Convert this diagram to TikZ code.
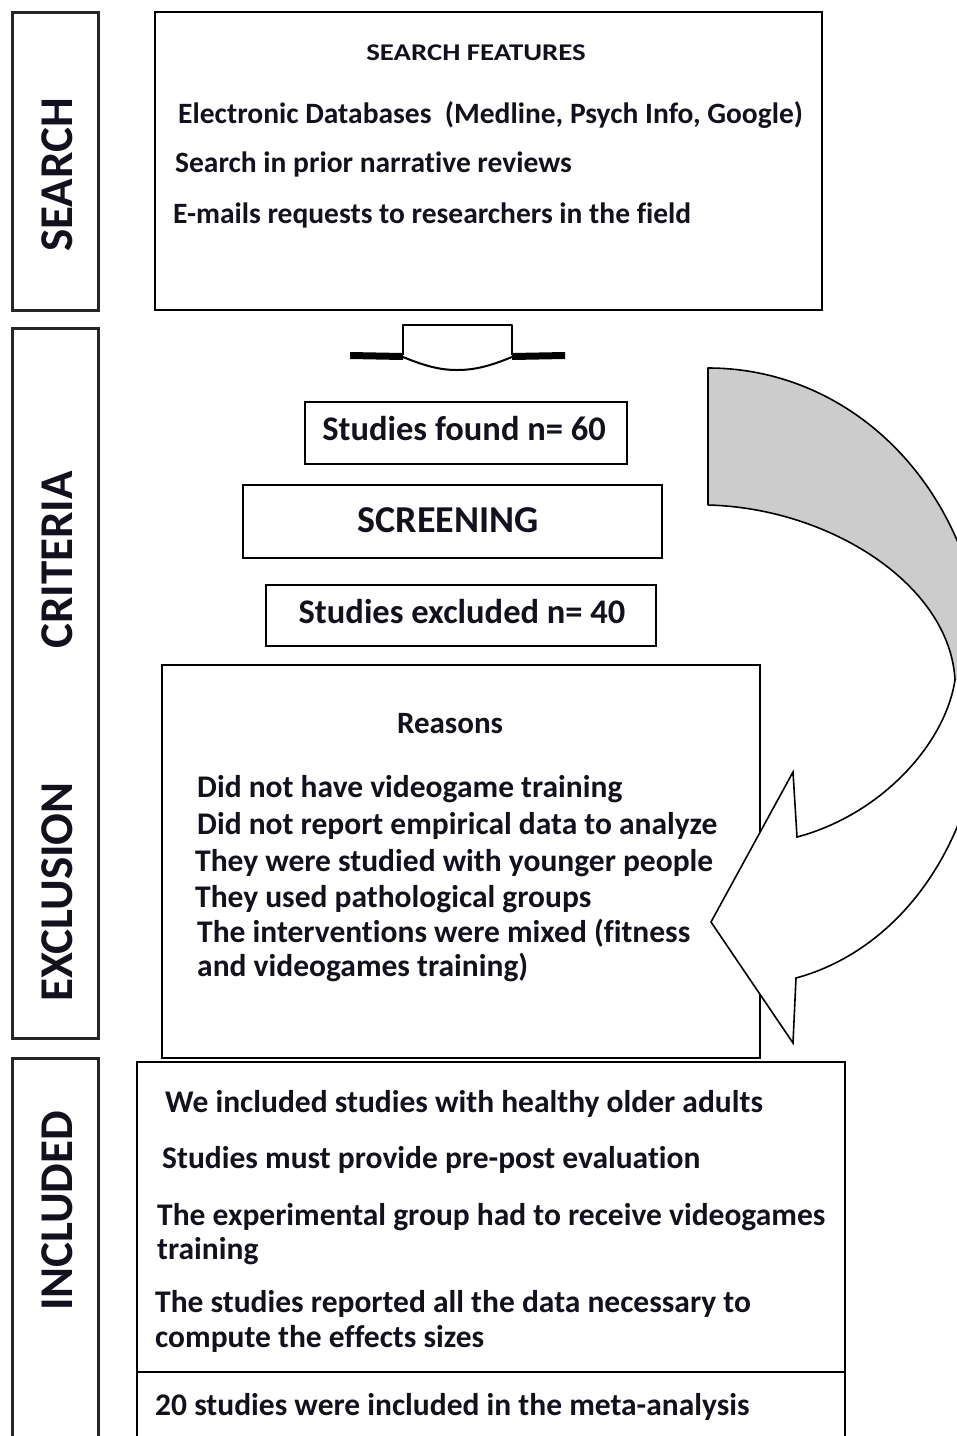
\documentclass[tikz,border=0pt]{standalone}
\usepackage{fontspec}
\setmainfont{Carlito}[Ligatures=NoCommon]
\definecolor{txt}{RGB}{18,18,30}
\definecolor{ribbon}{RGB}{204,204,204}
\tikzset{
  box/.style={draw=black, line width=2.4pt, fill=white, inner sep=0pt},
  labbox/.style={draw=black!85, line width=3pt, inner sep=0pt},
  lab/.style={rotate=90, inner sep=0pt, text=txt, font=\fontsize{47}{50}\selectfont\bfseries},
  ln/.style={anchor=base west, inner sep=0pt, text=txt, font=\fontsize{31.5}{34}\selectfont\bfseries},
  sl/.style={anchor=base west, inner sep=0pt, text=txt, font=\fontsize{29.5}{32}\selectfont\bfseries},
  ct/.style={anchor=base, inner sep=0pt, text=txt},
}
\begin{document}
\begin{tikzpicture}[x=1pt,y=-1pt]
\useasboundingbox (0,0) rectangle (957,1436);
\clip (0,0) rectangle (957,1436);
\fill[white] (0,0) rectangle (957,1436);
% left label boxes
\node[labbox, minimum width=86, minimum height=298] (lab1) at (55,161) {};
\node[labbox, minimum width=86, minimum height=710] (lab2) at (55,683) {};
\node[labbox, minimum width=86, minimum height=392] (lab3) at (55,1254) {};
\node[lab] (tsearch) at (57,175) {SEARCH};
\node[lab] (tcrit) at (57,560) {CRITERIA};
\node[lab] (texcl) at (57,892) {EXCLUSION};
\node[lab] (tincl) at (57,1211) {INCLUDED};
% search box
\node[box, minimum width=667, minimum height=298] (search) at (488.5,161) {};
\node[ct, font=\fontsize{24}{28}\selectfont\bfseries] (sf) at (476,60) {\scalebox{1.2}[1]{SEARCH FEATURES}};
\node[sl] (s1) at (178,123.5) {Electronic Databases~ (Medline, Psych Info, Google)};
\node[sl] (s2) at (175,172.5) {Search in prior narrative reviews};
\node[sl] (s3) at (173,223.5) {E-mails requests to researchers in the field};
% open arrow
\coordinate (oaL) at (350,355);
\coordinate (oaR) at (565,355);
\draw[line width=2.4pt, line join=round] (403,355) -- (403,325) -- (512,325) -- (512,355);
\fill[black] (350,352) -- (403,353) -- (403,360) -- (350,359) -- cycle;
\fill[black] (512,353) -- (565,352) -- (565,359) -- (512,360) -- cycle;
\draw[line width=2pt] (403,357) .. controls (425,366) and (440,370) .. (457,370) .. controls (475,370) and (490,366) .. (512,357);
% middle boxes
\node[box, minimum width=322, minimum height=62] (found) at (466,433) {};
\node[ct, font=\fontsize{34.5}{38}\selectfont\bfseries] (tfound) at (464,440) {Studies found n= 60};
\node[box, minimum width=419, minimum height=73] (screen) at (452.5,521.5) {};
\node[ct, font=\fontsize{38}{42}\selectfont\bfseries] (tscreen) at (448,532) {SCREENING};
\node[box, minimum width=390, minimum height=61] (excl) at (461,615.5) {};
\node[ct, font=\fontsize{34.5}{38}\selectfont\bfseries] (texc) at (462,623) {Studies excluded n= 40};
% reasons
\node[box, minimum width=598, minimum height=393] (reasons) at (461,861.5) {};
\node[ct, font=\fontsize{31}{34}\selectfont\bfseries] (treas) at (450,733) {Reasons};
\node[ln] (r1) at (197,797) {Did not have videogame training};
\node[ln] (r2) at (197,834) {Did not report empirical data to analyze};
\node[ln] (r3) at (195,871) {They were studied with younger people};
\node[ln] (r4) at (195,907) {They used pathological groups};
\node[ln] (r5) at (197,942) {The interventions were mixed (fitness};
\node[ln] (r6) at (197,976) {and videogames training)};
% curved arrow
\fill[ribbon] (708,368) .. controls (860,368) and (985,500) .. (985,680) -- (955,680)
  .. controls (950,585) and (830,508) .. (708,505) -- cycle;
\draw[line width=1.6pt, line join=round] (708,505) -- (708,368) .. controls (860,368) and (985,500) .. (985,680);
\draw[line width=1.6pt] (708,505) .. controls (830,508) and (950,585) .. (955,680);
\filldraw[fill=white, draw=black, line width=1.6pt, line join=miter]
  (955,680) .. controls (945,745) and (880,815) .. (797,837)
  -- (793,772) -- (711,922) -- (793,1043) -- (796,978)
  .. controls (900,950) and (985,840) .. (985,680);
% included
\node[box, minimum width=708, minimum height=310] (incl) at (491,1217) {};
\node[ln] (i1) at (165,1112) {We included studies with healthy older adults};
\node[ln] (i2) at (162,1168) {Studies must provide pre-post evaluation};
\node[ln] (i3) at (157,1225) {The experimental group had to receive videogames};
\node[ln] (i4) at (157,1259) {training};
\node[ln] (i5) at (155,1312) {The studies reported all the data necessary to};
\node[ln] (i6) at (155,1347) {compute the effects sizes};
\node[box, minimum width=708, minimum height=78] (final) at (491,1411) {};
\node[ln] (f1) at (155,1415) {20 studies were included in the meta-analysis};
\end{tikzpicture}
\end{document}
